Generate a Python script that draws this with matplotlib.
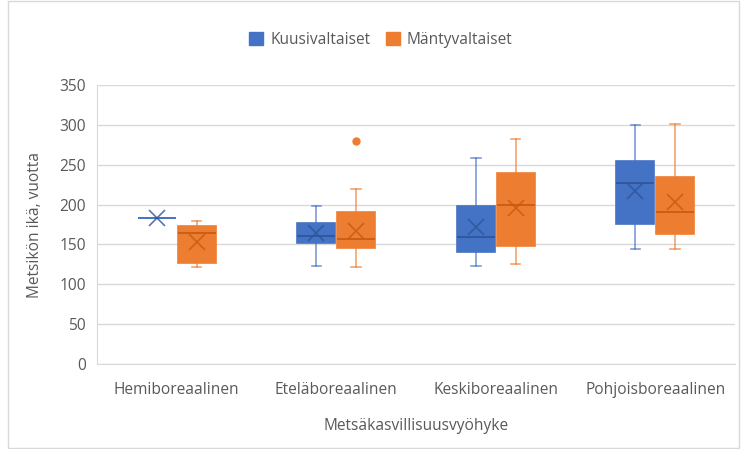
import numpy as np
import matplotlib.pyplot as plt
from matplotlib.patches import Patch, Rectangle

plt.rcParams["font.family"] = ["Open Sans", "DejaVu Sans"]

categories = ["Hemiboreaalinen", "Eteläboreaalinen", "Keskiboreaalinen", "Pohjoisboreaalinen"]
series_names = ["Kuusivaltaiset", "Mäntyvaltaiset"]

# Kuusivaltaiset
kuusi_low = [183, 123, 123, 144]
kuusi_q1 = [183, 152, 140, 176]
kuusi_med = [183, 161, 159, 227]
kuusi_q3 = [183, 177, 198, 255]
kuusi_high = [183, 198, 259, 300]
kuusi_mean = [183, 164, 172, 217]
kuusi_fliers = [[], [], [], []]

# Mäntyvaltaiset
manty_low = [122, 122, 125, 144]
manty_q1 = [127, 146, 148, 163]
manty_med = [164, 157, 200, 191]
manty_q3 = [173, 191, 239, 235]
manty_high = [179, 219, 282, 301]
manty_mean = [153, 167, 196, 203]
manty_fliers = [[], [280], [], []]

colors = ["#4472C4", "#ED7D31"]
dark = ["#2F5597", "#C55A11"]
grey = "#595959"
fs = 11.2


def make_stats(low, q1, med, q3, high, mean, fliers):
    return [dict(whislo=a, q1=b, med=c, q3=d, whishi=e, mean=m, fliers=f)
            for a, b, c, d, e, m, f in zip(low, q1, med, q3, high, mean, fliers)]


stats = [
    make_stats(kuusi_low, kuusi_q1, kuusi_med, kuusi_q3, kuusi_high, kuusi_mean, kuusi_fliers),
    make_stats(manty_low, manty_q1, manty_med, manty_q3, manty_high, manty_mean, manty_fliers),
]

fig = plt.figure(figsize=(7.41, 4.49), dpi=100)
ax = fig.add_axes([0.1309, 0.1893, 0.8610, 0.6214])

x = np.arange(1, len(categories) + 1)
offsets = [-0.125, 0.125]
for k in range(2):
    c, d = colors[k], dark[k]
    res = ax.bxp(stats[k], positions=x + offsets[k], widths=0.24, patch_artist=True,
                 showmeans=True, showfliers=True, manage_ticks=False,
                 boxprops=dict(facecolor=c, edgecolor=c, linewidth=1.2),
                 medianprops=dict(color=d, linewidth=1.2),
                 whiskerprops=dict(color=c, linewidth=1.2, alpha=0.7),
                 capprops=dict(color=c, linewidth=1.2, alpha=0.7),
                 capwidths=0.06,
                 meanprops=dict(marker="x", markersize=11, markeredgecolor=d,
                                markeredgewidth=1.2, alpha=0.8),
                 flierprops=dict(marker="o", markersize=5, markerfacecolor=c,
                                 markeredgecolor=c))
    # flat box (all values equal) shows as a plain line in the series colour
    for st, med_line in zip(stats[k], res["medians"]):
        if st["q1"] == st["q3"]:
            med_line.set_color(c)

ax.set_xlim(0.5, 4.5)
ax.set_ylim(0, 350)
ax.set_yticks(np.arange(0, 351, 50))
ax.set_xticks(x)
ax.set_xticklabels(categories)
ax.yaxis.grid(True, color="#D9D9D9", linewidth=1)
ax.set_axisbelow(True)
for s in ["top", "right"]:
    ax.spines[s].set_visible(False)
ax.spines["left"].set_color("#D9D9D9")
ax.spines["bottom"].set_color("#D9D9D9")
ax.tick_params(length=0, colors=grey, labelsize=fs, pad=8)
ax.tick_params(axis="x", pad=13)

ax.set_ylabel("Metsikön ikä, vuotta", color=grey, fontsize=fs, labelpad=12)
ax.set_xlabel("Metsäkasvillisuusvyöhyke", color=grey, fontsize=fs, labelpad=14)

handles = [Patch(facecolor=colors[k], edgecolor=colors[k]) for k in range(2)]
leg = fig.legend(handles, series_names, loc="center", ncol=2,
                 bbox_to_anchor=(381 / 741, 1 - 40 / 449), frameon=False,
                 fontsize=fs, handlelength=0.9, handleheight=0.9,
                 columnspacing=1.0, handletextpad=0.45)
for t in leg.get_texts():
    t.set_color(grey)

fig.patches.append(Rectangle((8 / 741, 0.002), 1 - 8 / 741 - 0.003, 0.996,
                             transform=fig.transFigure, fill=False,
                             edgecolor="#D9D9D9", linewidth=1))

fig.savefig("out.png", dpi=100, facecolor="white")
